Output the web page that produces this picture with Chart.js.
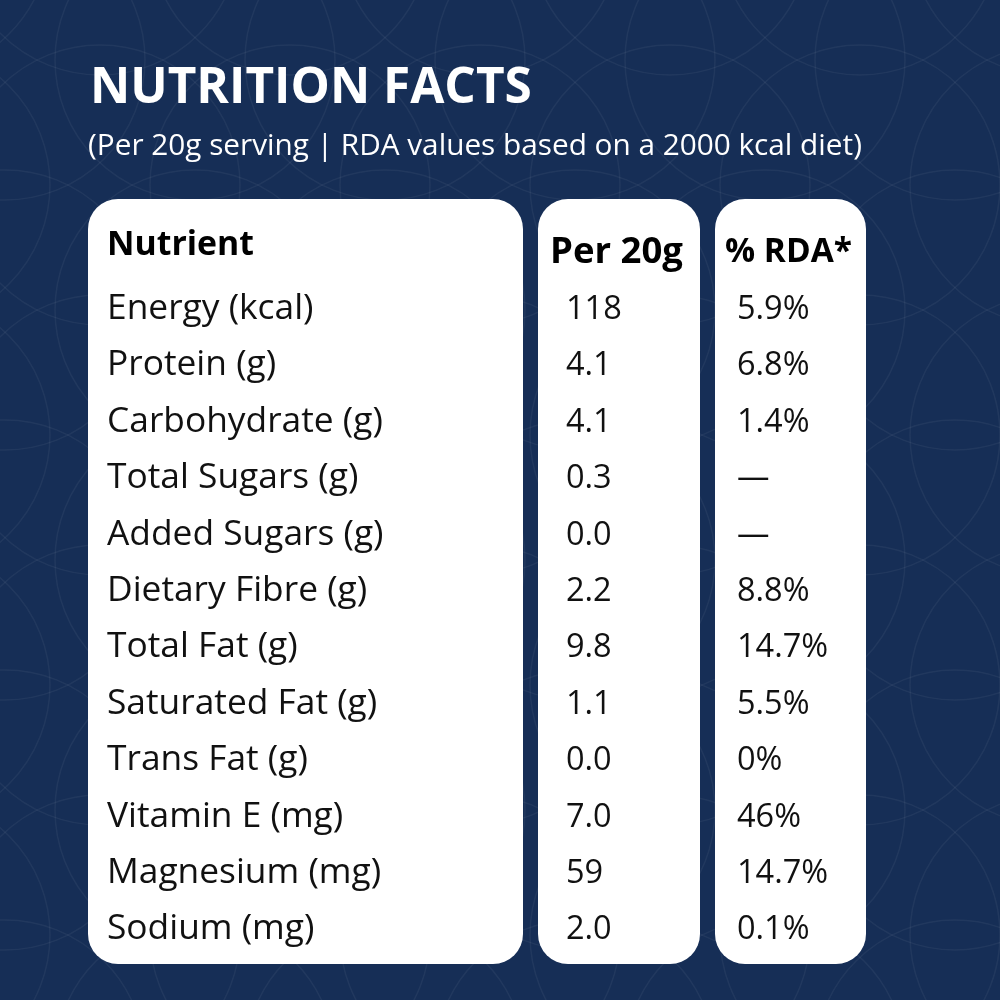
<!DOCTYPE html>
<html>
<head>
<meta charset="utf-8">
<script src="https://cdn.jsdelivr.net/npm/chart.js@4.4.1/dist/chart.umd.min.js"></script>
<style>
  html, body { margin: 0; padding: 0; background: #162e56; }
  #wrap { width: 1000px; height: 1000px; }
</style>
</head>
<body>
<div id="wrap"><canvas id="chart" width="1000" height="1000"></canvas></div>
<script>
const titleText = 'NUTRITION FACTS';
const subtitleText = '(Per 20g serving | RDA values based on a 2000 kcal diet)';
const headers = ['Nutrient', 'Per 20g', '% RDA*'];
const nutrients = [
  'Energy (kcal)', 'Protein (g)', 'Carbohydrate (g)', 'Total Sugars (g)',
  'Added Sugars (g)', 'Dietary Fibre (g)', 'Total Fat (g)', 'Saturated Fat (g)',
  'Trans Fat (g)', 'Vitamin E (mg)', 'Magnesium (mg)', 'Sodium (mg)'
];
const per20g = ['118', '4.1', '4.1', '0.3', '0.0', '2.2', '9.8', '1.1', '0.0', '7.0', '59', '2.0'];
const rdaPercent = ['5.9%', '6.8%', '1.4%', '—', '—', '8.8%', '14.7%', '5.5%', '0%', '46%', '14.7%', '0.1%'];

const FAMILY = '"Open Sans", "Noto Sans", sans-serif';

// pick a font size so that a string fills a given width
function fitSize(ctx, text, weight, width) {
  ctx.font = weight + ' 100px ' + FAMILY;
  return 100 * width / ctx.measureText(text).width;
}

function capHeight(ctx) {
  return ctx.measureText('H').actualBoundingBoxAscent;
}

const tablePlugin = {
  id: 'nutritionTable',
  beforeDraw(chart) {
    const ctx = chart.ctx;
    ctx.save();
    ctx.fillStyle = '#162e56';
    ctx.fillRect(0, 0, chart.width, chart.height);

    // faint circle pattern in the background
    ctx.strokeStyle = 'rgba(255,255,255,0.05)';
    ctx.lineWidth = 1.5;
    for (let j = -1; j < 10; j++) {
      const cy = j * 125 + 60;
      const off = (j % 2 === 0) ? 0 : 95;
      for (let i = -1; i < 7; i++) {
        ctx.beginPath();
        ctx.arc(i * 190 + off + 5, cy, 140, 0, Math.PI * 2);
        ctx.stroke();
      }
    }

    // title and subtitle
    ctx.fillStyle = '#ffffff';
    ctx.textBaseline = 'alphabetic';
    ctx.textAlign = 'left';
    let s = fitSize(ctx, titleText, 'bold', 442);
    ctx.font = 'bold ' + s + 'px ' + FAMILY;
    ctx.fillText(titleText, 90, 103);
    s = fitSize(ctx, subtitleText, '500', 774);
    ctx.font = '500 ' + s + 'px ' + FAMILY;
    ctx.fillText(subtitleText, 88, 155);
    ctx.restore();
  },
  afterDraw(chart) {
    const ctx = chart.ctx;
    const y = chart.scales.y;
    const top = y.top - 23;
    const bottom = y.bottom + 9;
    const panels = [[88, 523], [538, 700], [715, 866]];

    ctx.save();
    ctx.fillStyle = '#ffffff';
    panels.forEach(([x0, x1]) => {
      ctx.beginPath();
      ctx.roundRect(x0, top, x1 - x0, bottom - top, 30);
      ctx.fill();
    });

    ctx.textAlign = 'left';
    ctx.textBaseline = 'alphabetic';

    // header row (first category)
    const hy = y.getPixelForValue(0);
    ctx.fillStyle = '#000000';
    const hx = [107, 550, 725];
    const hw = [147, 133, 127];
    const hdy = [-7, 0, 0];
    headers.forEach((h, i) => {
      const s = fitSize(ctx, h, 'bold', hw[i]);
      ctx.font = 'bold ' + s + 'px ' + FAMILY;
      ctx.fillText(h, hx[i], hy + capHeight(ctx) / 2 + hdy[i]);
    });

    // body rows
    const bs = fitSize(ctx, 'Carbohydrate (g)', 'normal', 276);
    ctx.font = 'normal ' + bs + 'px ' + FAMILY;
    const ch = capHeight(ctx);
    ctx.fillStyle = '#111111';
    nutrients.forEach((n, i) => {
      const py = y.getPixelForValue(i + 1) + ch / 2;
      ctx.fillText(n, 107, py);
    });
    // value columns a touch smaller, closer to the narrow figures of the original
    ctx.font = 'normal ' + (bs * 0.92) + 'px ' + FAMILY;
    nutrients.forEach((n, i) => {
      const py = y.getPixelForValue(i + 1) + ch / 2;
      ctx.fillText(per20g[i], 566, py);
      ctx.fillText(rdaPercent[i], 737, py);
    });
    ctx.restore();
  }
};

new Chart(document.getElementById('chart'), {
  type: 'bar',
  data: {
    labels: [headers[0], ...nutrients],
    datasets: []
  },
  options: {
    indexAxis: 'y',
    responsive: false,
    animation: false,
    devicePixelRatio: 1,
    layout: { padding: { top: 222, bottom: 45, left: 0, right: 0 } },
    plugins: { legend: { display: false }, tooltip: { enabled: false } },
    scales: {
      y: { type: 'category', offset: true, display: false },
      x: { type: 'linear', min: 0, max: 1000, display: false }
    }
  },
  plugins: [tablePlugin]
});
</script>
</body>
</html>
